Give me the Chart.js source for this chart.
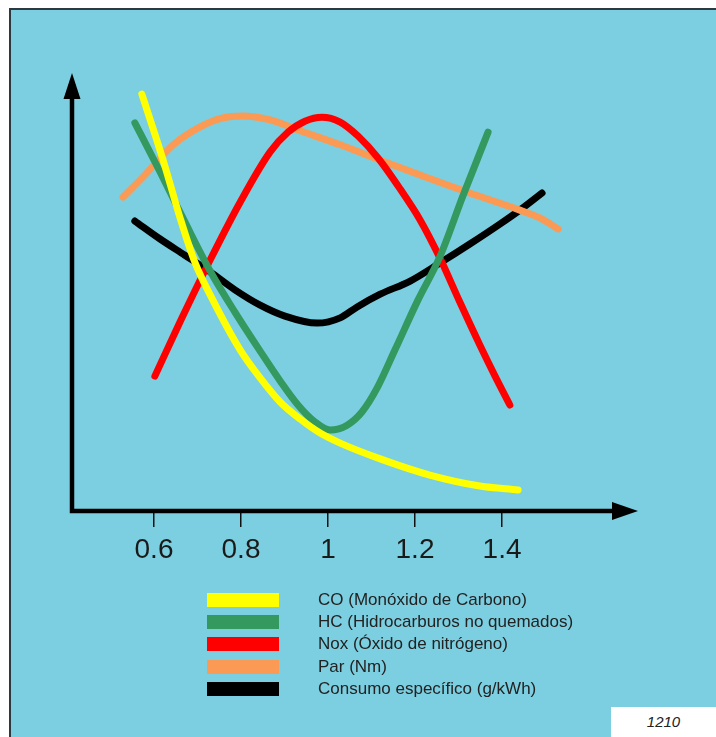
<!DOCTYPE html>
<html lang="es">
<head>
    <meta charset="UTF-8">
    <meta name="viewport" content="width=device-width, initial-scale=1.0">
    <title>Gráfico</title>
    <script src="https://cdn.jsdelivr.net/npm/chart.js"></script>
    <style>
      html, body { margin: 0; padding: 0; background: #fff; }
      body { width: 716px; height: 737px; position: relative; overflow: hidden;
             font-family: "Liberation Sans", Arial, sans-serif; }
      #panel { position: absolute; left: 9px; top: 8px; width: 720px; height: 740px;
               background: #7ccfe1; border-left: 2px solid #2b3a40; border-top: 2px solid #2b3a40; }
      #myChart { position: absolute; left: 0; top: 0; }
      #legend { position: absolute; left: 207px; top: 593px; }
      .row { position: relative; height: 22.2px; }
      .sw { position: absolute; left: 0; top: 0; width: 72px; height: 14px; }
      .lb { position: absolute; left: 111px; top: -3px; font-size: 17px; line-height: 20px;
            color: #222; white-space: nowrap; }
      #num { position: absolute; left: 611px; top: 707px; width: 105px; height: 30px; background: #fff;
             font-style: italic; font-size: 15px; line-height: 30px; text-align: center; color: #222; }
    </style>
</head>
<body>
    <div id="panel"></div>
    <canvas id="myChart" width="716" height="737"></canvas>
    <div id="legend"></div>
    <div id="num">1210</div>

    <script>
      // eje x: lambda (factor de aire)
      const tickValues = [0.6, 0.8, 1, 1.2, 1.4];
      const tickLabels = ['0.6', '0.8', '1', '1.2', '1.4'];

      const nombres = ['CO (Monóxido de Carbono)', 'HC (Hidrocarburos no quemados)',
                       'Nox (Óxido de nitrógeno)', 'Par (Nm)', 'Consumo específico (g/kWh)'];
      const colores = ['#ffff00', '#33995f', '#ff0000', '#fb9a55', '#000000'];

      // valores [lambda, valor relativo]
      const co = [[0.572,95.2],[0.621,80.1],[0.660,66.9],[0.694,56.8],[0.733,48.6],[0.798,36.8],
                  [0.844,30.4],[0.890,24.9],[0.936,21.0],[0.982,17.8],[1.028,15.5],[1.120,11.9],
                  [1.234,8.2],[1.349,5.7],[1.437,4.8]];
      const hc = [[0.556,88.6],[0.614,77.4],[0.671,66.0],[0.729,54.8],[0.786,45.4],[0.844,36.5],
                  [0.890,29.7],[0.931,24.2],[0.968,20.5],[1.005,18.5],[1.044,19.6],[1.078,22.6],
                  [1.113,28.1],[1.154,36.8],[1.207,48.2],[1.257,58.0],[1.310,71.9],[1.368,86.5]];
      const nox = [[0.602,30.8],[0.660,43.2],[0.729,57.3],[0.798,70.5],[0.867,82.0],[0.908,86.5],
                   [0.947,89.0],[0.986,89.9],[1.028,88.8],[1.069,85.6],[1.115,80.6],[1.166,73.5],
                   [1.212,66.4],[1.257,57.8],[1.303,47.7],[1.349,37.9],[1.384,30.8],[1.418,24.2]];
      const par = [[0.529,71.7],[0.579,76.7],[0.644,83.6],[0.706,87.7],[0.756,89.7],[0.804,90.2],
                   [0.867,89.3],[0.936,86.8],[1.028,83.6],[1.120,80.1],[1.212,76.7],[1.326,72.6],
                   [1.441,68.7],[1.487,66.9],[1.529,64.4]];
      const consumo = [[0.556,66.2],[0.614,62.1],[0.671,58.4],[0.729,54.6],[0.786,50.5],[0.844,47.0],
                       [0.901,44.5],[0.975,42.9],[1.028,44.1],[1.067,46.6],[1.120,49.5],
                       [1.189,52.5],[1.257,56.6],[1.326,60.95],[1.395,65.5],[1.441,68.7],[1.492,72.6]];

      const series = [co, hc, nox, par, consumo];

      // ejes con flechas
      const ejes = {
        id: 'ejes',
        beforeDatasetsDraw(chart) {
          const { ctx, chartArea: a } = chart;
          ctx.save();
          ctx.strokeStyle = '#000';
          ctx.fillStyle = '#000';
          ctx.lineWidth = 4.5;
          ctx.lineJoin = 'miter';
          ctx.beginPath();
          ctx.moveTo(a.left, a.top + 25);
          ctx.lineTo(a.left, a.bottom);
          ctx.lineTo(a.right - 25, a.bottom);
          ctx.stroke();
          ctx.beginPath();
          ctx.moveTo(a.left, a.top);
          ctx.lineTo(a.left - 8.5, a.top + 26);
          ctx.lineTo(a.left + 8.5, a.top + 26);
          ctx.closePath();
          ctx.fill();
          ctx.beginPath();
          ctx.moveTo(a.right, a.bottom);
          ctx.lineTo(a.right - 26, a.bottom - 9);
          ctx.lineTo(a.right - 26, a.bottom + 9);
          ctx.closePath();
          ctx.fill();
          ctx.restore();
        }
      };

      const ctx = document.getElementById('myChart').getContext('2d');
      const myChart = new Chart(ctx, {
        type: 'line',
        data: {
          datasets: series.map((s, i) => ({
            label: nombres[i],
            data: s.map(p => ({ x: p[0], y: p[1] })),
            borderColor: colores[i],
            backgroundColor: colores[i],
            borderWidth: 7,
            borderCapStyle: 'round',
            borderJoinStyle: 'round',
            pointRadius: 0,
            cubicInterpolationMode: 'monotone',
            fill: false
          }))
        },
        options: {
          responsive: false,
          animation: false,
          devicePixelRatio: 1,
          layout: { padding: { left: 72, right: 78, top: 73, bottom: 176 } },
          plugins: { legend: { display: false }, tooltip: { enabled: false } },
          scales: {
            x: {
              type: 'linear',
              min: 0.41149,
              max: 1.7126,
              afterBuildTicks: s => { s.ticks = tickValues.map(v => ({ value: v })); },
              afterFit: s => { s.height = 50; },
              border: { display: false },
              grid: { drawOnChartArea: false, drawTicks: true, tickLength: 16, color: '#111', lineWidth: 1.5 },
              ticks: {
                autoSkip: false,
                maxRotation: 0,
                padding: 6,
                color: '#1a1a1a',
                font: { family: '"Liberation Sans", Arial, sans-serif', size: 28 },
                callback: (v, i) => tickLabels[i]
              }
            },
            y: { display: false, min: 0, max: 100 }
          }
        },
        plugins: [ejes]
      });

      // leyenda
      const leg = document.getElementById('legend');
      myChart.data.datasets.forEach(d => {
        const row = document.createElement('div');
        row.className = 'row';
        const sw = document.createElement('div');
        sw.className = 'sw';
        sw.style.background = d.borderColor;
        const lb = document.createElement('div');
        lb.className = 'lb';
        lb.textContent = d.label;
        row.appendChild(sw);
        row.appendChild(lb);
        leg.appendChild(row);
      });
    </script>
</body>
</html>
